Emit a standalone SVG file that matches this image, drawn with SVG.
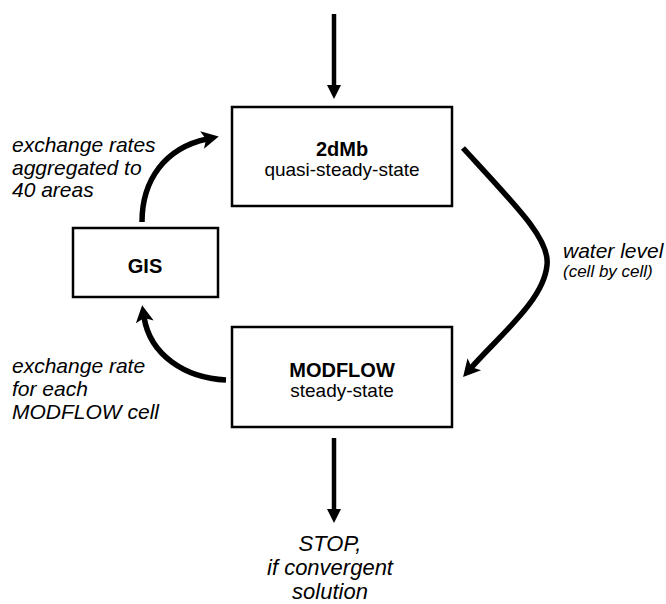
<svg xmlns="http://www.w3.org/2000/svg" width="666" height="604" viewBox="0 0 666 604">
<style>
.box{fill:#fff;stroke:#000;stroke-width:2.5}
.t{font-family:"Liberation Sans",Arial,sans-serif;fill:#000;text-anchor:middle}
.b{font-weight:bold;font-size:20px}
.r{font-size:19px}
.l{font-family:"Liberation Sans",Arial,sans-serif;font-style:italic;font-size:21px;fill:#000}
.st{fill:none;stroke:#000;stroke-width:4.5}
.cv{fill:none;stroke:#000;stroke-width:5.5}
</style>
<defs>
<marker id="tri" viewBox="0 -8 16 16" markerWidth="16" markerHeight="16" refX="0" refY="0" orient="auto" markerUnits="userSpaceOnUse">
<path d="M0,-7 L14,0 L0,7 z" fill="#000"/>
</marker>
<marker id="chev" viewBox="-3 -10 20 20" markerWidth="20" markerHeight="20" refX="3" refY="0" orient="auto" markerUnits="userSpaceOnUse">
<path d="M-2,-9 L15,0 L-2,9 L2,0 z" fill="#000"/>
</marker>
</defs>
<g id="connectors">
<line class="st" x1="334" y1="14" x2="334" y2="85" marker-end="url(#tri)"/>
<line class="st" x1="334" y1="438" x2="334" y2="509" marker-end="url(#tri)"/>
<path class="cv" d="M463,148 C520,210 550,240 547,265 C544,300 500,335 471,368" marker-end="url(#chev)"/>
<path class="cv" d="M226,380 C185,378 150,355 144,317" marker-end="url(#chev)"/>
<path class="cv" d="M142,222 C142,180 165,148 207,139" marker-end="url(#chev)"/>
</g>
<g id="node-2dmb">
<rect class="box" x="232" y="107" width="220" height="99"/>
<text class="t b" x="342" y="156">2dMb</text>
<text class="t r" x="342" y="176">quasi-steady-state</text>
</g>
<g id="node-modflow">
<rect class="box" x="232" y="327" width="220" height="100"/>
<text class="t b" x="342" y="377">MODFLOW</text>
<text class="t r" x="342" y="397">steady-state</text>
</g>
<g id="node-gis">
<rect class="box" x="73" y="228" width="145" height="69"/>
<text class="t b" x="145" y="273">GIS</text>
</g>
<g id="labels">
<text class="l" x="12" y="152">exchange rates</text>
<text class="l" x="12" y="175">aggregated to</text>
<text class="l" x="12" y="197">40 areas</text>
<text class="l" x="12" y="373">exchange rate</text>
<text class="l" x="12" y="396">for each</text>
<text class="l" x="12" y="419">MODFLOW cell</text>
<text class="l" x="563" y="258">water level</text>
<text class="l" x="563" y="277" style="font-size:17px">(cell by cell)</text>
<text class="l" x="330" y="551" text-anchor="middle" style="font-size:22px">STOP,</text>
<text class="l" x="330" y="575" text-anchor="middle" style="font-size:22px">if convergent</text>
<text class="l" x="330" y="599" text-anchor="middle" style="font-size:22px">solution</text>
</g>
</svg>
